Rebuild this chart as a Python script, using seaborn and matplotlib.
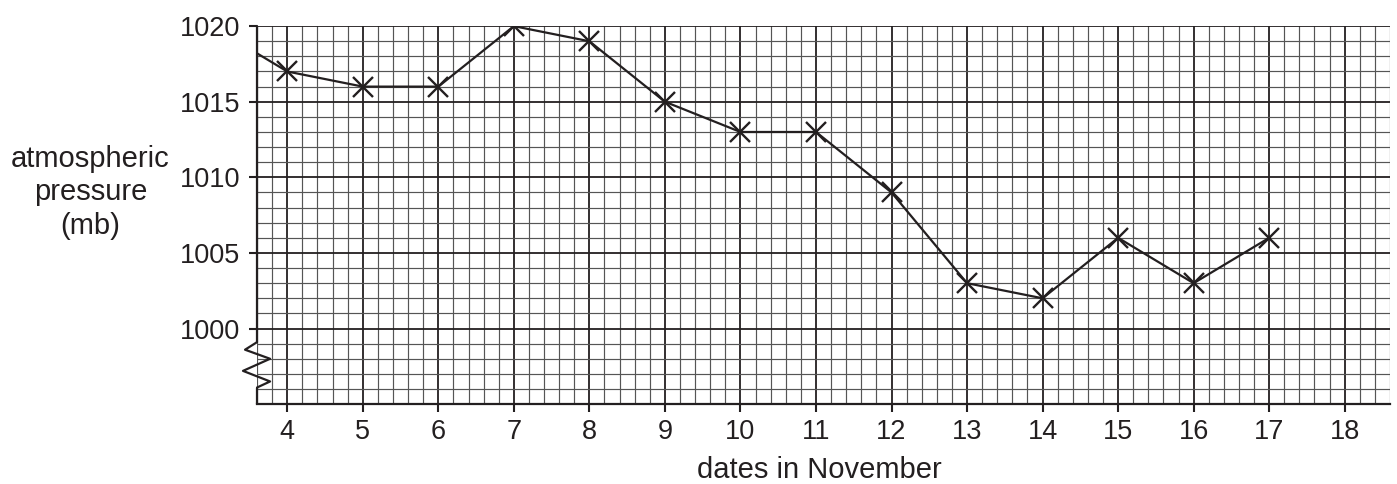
import matplotlib
matplotlib.use("Agg")
import matplotlib.pyplot as plt
import matplotlib.transforms as mtransforms
from matplotlib.ticker import MultipleLocator
import seaborn as sns

# readings off the graph paper (day 3 only gives the line coming in from the left)
dates = [3, 4, 5, 6, 7, 8, 9, 10, 11, 12, 13, 14, 15, 16, 17]
pressure = [1020, 1017, 1016, 1016, 1020, 1019, 1015, 1013, 1013, 1009,
            1003, 1002, 1006, 1003, 1006]
x_ticks = list(range(4, 19))
y_ticks = [1000, 1005, 1010, 1015, 1020]

sns.set_style("white")
plt.rcParams['font.family'] = ['Liberation Sans', 'DejaVu Sans']

ink = '#231f20'
fig = plt.figure(figsize=(13.97, 4.84), dpi=100)
ax = fig.add_axes([0.184, 0.165, 0.811, 0.781])

sns.lineplot(x=dates, y=pressure, ax=ax, color=ink, linewidth=1.6,
             marker='x', markersize=14, markeredgewidth=1.7,
             markeredgecolor=ink, zorder=5)

ax.set_xlim(3.6, 18.6)
ax.set_ylim(995, 1020)
ax.set_xticks(x_ticks)
ax.set_yticks(y_ticks)
ax.xaxis.set_minor_locator(MultipleLocator(0.2))
ax.yaxis.set_minor_locator(MultipleLocator(1))
ax.grid(which='minor', color='#555555', linewidth=0.85)
ax.grid(which='major', color=ink, linewidth=1.3)
ax.set_axisbelow(True)

ax.tick_params(which='major', direction='out', length=6, width=1.5,
               color=ink, labelsize=19.5, labelcolor=ink, pad=5)
ax.tick_params(axis='y', pad=6)
ax.tick_params(which='minor', length=0)
ax.tick_params(left=True, bottom=True)

for side in ['top', 'right']:
    ax.spines[side].set_visible(False)
ax.spines['left'].set_visible(False)
ax.spines['bottom'].set_color(ink)
ax.spines['bottom'].set_linewidth(1.6)

# left axis with a break (zigzag) below 1000
tr = mtransforms.blended_transform_factory(ax.transAxes, ax.transData)
ax.plot([0, 0], [1020, 999.1], transform=tr, color=ink, lw=1.6, clip_on=False)
ax.plot([0, -0.0106, 0.0115, -0.0124, 0.0115, 0],
        [999.1, 998.6, 998.0, 997.2, 996.5, 996.1],
        transform=tr, color=ink, lw=1.6, clip_on=False)
ax.plot([0, 0], [996.1, 995], transform=tr, color=ink, lw=1.6, clip_on=False)

ax.set_xlabel('dates in November', fontsize=21, color=ink, va='center')
ax.xaxis.set_label_coords(0.496, -0.175)
ax.set_ylabel('atmospheric\npressure\n(mb)', fontsize=21, color=ink,
              rotation=0, ha='center', va='center', linespacing=1.25)
ax.yaxis.set_label_coords(-0.147, 0.561)

fig.savefig('out.png', dpi=100)
